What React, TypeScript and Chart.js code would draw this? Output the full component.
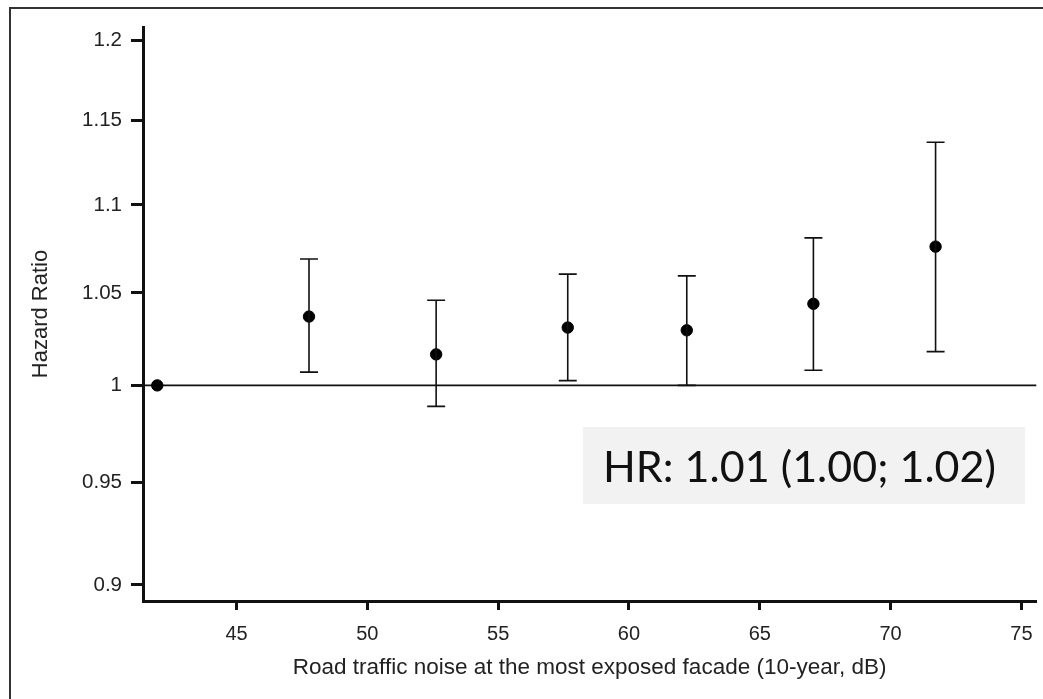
import React, { useEffect, useRef } from "react";
import { Chart, registerables } from "chart.js";

Chart.register(...registerables);

// ---- data ----
const noiseLevels = [41.97, 47.77, 52.63, 57.66, 62.21, 67.05, 71.72];
const hazardRatios = [1.0, 1.037, 1.0165, 1.031, 1.0295, 1.044, 1.076];
const lowerCI = [null, 1.007, 0.989, 1.0025, 1.0, 1.008, 1.018];
const upperCI = [null, 1.069, 1.046, 1.0605, 1.0595, 1.081, 1.137];

const xTicks = [45, 50, 55, 60, 65, 70, 75];
const xTickLabels = ["45", "50", "55", "60", "65", "70", "75"];
const yTicks = [0.9, 0.95, 1, 1.05, 1.1, 1.15, 1.2];
const yTickLabels = ["0.9", "0.95", "1", "1.05", "1.1", "1.15", "1.2"];
const xRange = [41.425, 75.57];
const yRange = [0.8924, 1.2083];
const referenceHR = 1;

const xTitle = "Road traffic noise at the most exposed facade (10-year, dB)";
const yTitle = "Hazard Ratio";
const annotationText = "HR: 1.01 (1.00; 1.02)";

const W = 1043;
const H = 699;

export default function App() {
  const canvasRef = useRef<HTMLCanvasElement | null>(null);

  useEffect(() => {
    const canvas = canvasRef.current;
    if (!canvas) return;
    const font = "'Liberation Sans', Arial, sans-serif";

    const extras = {
      id: "extras",
      beforeDatasetsDraw(chart: any) {
        const { ctx, chartArea, scales } = chart;
        const y = scales.y.getPixelForValue(referenceHR);
        ctx.save();
        ctx.strokeStyle = "#111";
        ctx.lineWidth = 1.6;
        ctx.beginPath();
        ctx.moveTo(chartArea.left, y);
        ctx.lineTo(chartArea.right, y);
        ctx.stroke();
        ctx.restore();
      },
      afterDatasetsDraw(chart: any) {
        const { ctx, scales } = chart;
        ctx.save();
        ctx.strokeStyle = "#111";
        ctx.lineWidth = 1.6;
        for (let i = 0; i < noiseLevels.length; i++) {
          const lo = lowerCI[i];
          const hi = upperCI[i];
          if (lo == null || hi == null) continue;
          const x = scales.x.getPixelForValue(noiseLevels[i]);
          const yl = scales.y.getPixelForValue(lo);
          const yh = scales.y.getPixelForValue(hi);
          ctx.beginPath();
          ctx.moveTo(x, yl);
          ctx.lineTo(x, yh);
          ctx.moveTo(x - 9, yl);
          ctx.lineTo(x + 9, yl);
          ctx.moveTo(x - 9, yh);
          ctx.lineTo(x + 9, yh);
          ctx.stroke();
        }
        ctx.restore();
      },
      afterDraw(chart: any) {
        const { ctx } = chart;
        ctx.save();
        ctx.strokeStyle = "#333";
        ctx.lineWidth = 2;
        ctx.beginPath();
        ctx.moveTo(10, H + 5);
        ctx.lineTo(10, 8);
        ctx.lineTo(W + 5, 8);
        ctx.stroke();
        ctx.fillStyle = "#f2f2f2";
        ctx.fillRect(583, 427, 442, 77);
        ctx.fillStyle = "#111";
        ctx.font = "42px Lato, 'Open Sans', sans-serif";
        ctx.textBaseline = "alphabetic";
        ctx.textAlign = "left";
        const m = ctx.measureText(annotationText);
        const sx = 393 / m.width;
        ctx.translate(603, 482);
        ctx.scale(sx, 1);
        ctx.fillText(annotationText, 0, 0);
        ctx.restore();
      },
    };

    const chart = new Chart(canvas, {
      type: "scatter",
      data: {
        datasets: [
          {
            data: noiseLevels.map((x, i) => ({ x, y: hazardRatios[i] })),
            backgroundColor: "#000",
            borderColor: "#000",
            pointRadius: 5.7,
            pointHoverRadius: 5.7,
            showLine: false,
          },
        ],
      },
      options: {
        animation: false,
        responsive: false,
        devicePixelRatio: 1,
        events: [],
        layout: { padding: { left: 0, right: 3.3, top: 27, bottom: 0 } },
        plugins: {
          legend: { display: false },
          tooltip: { enabled: false },
          title: { display: false },
        },
        scales: {
          x: {
            type: "linear",
            bounds: "data",
            min: xRange[0],
            max: xRange[1],
            afterBuildTicks(scale: any) {
              scale.ticks = xTicks.map((v) => ({ value: v }));
              scale.min = xRange[0];
              scale.max = xRange[1];
            },
            afterFit(scale: any) {
              scale.height = H - 601;
              scale.paddingLeft = 0;
              scale.paddingRight = 0;
            },
            border: { display: true, color: "#111", width: 3 },
            grid: {
              drawOnChartArea: false,
              drawTicks: true,
              tickLength: 9,
              tickWidth: 3,
              tickColor: "#111",
              color: "#111",
            },
            ticks: {
              color: "#222",
              font: { family: font, size: 20 },
              padding: 12,
              maxRotation: 0,
              callback: (_v: any, i: number) => xTickLabels[i],
            },
            title: {
              display: true,
              text: xTitle,
              color: "#222",
              font: { family: font, size: 22.5 },
              padding: { top: 0, bottom: 18 },
            },
          },
          y: {
            type: "logarithmic",
            bounds: "data",
            min: yRange[0],
            max: yRange[1],
            afterBuildTicks(scale: any) {
              scale.ticks = yTicks.map((v) => ({ value: v }));
              scale.min = yRange[0];
              scale.max = yRange[1];
            },
            afterFit(scale: any) {
              scale.width = 143;
              scale.paddingTop = 0;
              scale.paddingBottom = 0;
            },
            border: { display: true, color: "#111", width: 3 },
            grid: {
              drawOnChartArea: false,
              drawTicks: true,
              tickLength: 12,
              tickWidth: 3,
              tickColor: "#111",
              color: "#111",
            },
            ticks: {
              color: "#222",
              font: { family: font, size: 20.5 },
              padding: 9,
              callback: (_v: any, i: number) => yTickLabels[i],
            },
            title: {
              display: true,
              text: yTitle,
              color: "#222",
              font: { family: font, size: 22 },
              padding: { top: 28, bottom: 0 },
            },
          },
        },
      },
      plugins: [extras],
    });

    return () => chart.destroy();
  }, []);

  return (
    <div style={{ position: "absolute", left: 0, top: 0, width: W, height: H, background: "#fff" }}>
      <canvas ref={canvasRef} width={W} height={H} style={{ display: "block" }} />
    </div>
  );
}
